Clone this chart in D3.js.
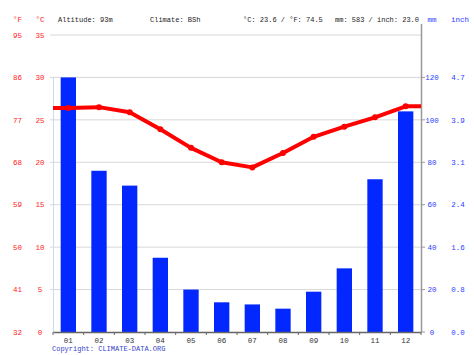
<!DOCTYPE html>
<html><head><meta charset="utf-8">
<script src="https://cdn.jsdelivr.net/npm/d3@7"></script>
<style>body{margin:0;background:#fff}svg{display:block}</style>
</head><body>
<svg id="c" width="474" height="355"></svg>
<script>
const months = ["01","02","03","04","05","06","07","08","09","10","11","12"];
const precipMm = [120,76,69,35,20,14,13,11,19,30,72,104];
const tempC = [26.4,26.5,25.9,23.9,21.7,20.0,19.4,21.1,23.0,24.2,25.3,26.6];
const cTicks = [0,5,10,15,20,25,30,35];
const fTicks = ["32","41","50","59","68","77","86","95"];
const mmTicks = [0,20,40,60,80,100,120];
const inchTicks = ["0.0","0.8","1.6","2.4","3.1","3.9","4.7"];
const header = ["Altitude: 93m","Climate: BSh","°C: 23.6 / °F: 74.5","mm: 583 / inch: 23.0"];

const svg = d3.select("#c");
const L = 53, R = 421, T = 35, B = 332;
const font = "'Liberation Mono', 'DejaVu Sans Mono', monospace";
const red = "#ff1a1a", blue = "#2a3cff";

const x = d3.scaleBand().domain(months).range([L, R]).paddingInner(0.5).paddingOuter(0.25);
const xb = d3.scaleBand().domain(months).range([L, R]);
const yC = d3.scaleLinear().domain([0, 35]).range([B, T]);
const yMm = d3.scaleLinear().domain([0, 140]).range([B, T]);

// gridlines
svg.append("g").selectAll("line").data(cTicks.filter(d => d > 0)).join("line")
  .attr("x1", L - 3).attr("x2", R).attr("y1", d => yC(d)).attr("y2", d => yC(d))
  .attr("stroke", "#d8d8d8").attr("stroke-width", 1);

// faint left axis
svg.append("line").attr("x1", L + 0.5).attr("x2", L + 0.5).attr("y1", yMm(120)).attr("y2", B)
  .attr("stroke", "#d0d8f0").attr("stroke-width", 1);

// bars
svg.append("g").selectAll("rect").data(months).join("rect")
  .attr("x", d => x(d)).attr("width", x.bandwidth())
  .attr("y", (d, i) => yMm(precipMm[i])).attr("height", (d, i) => B - yMm(precipMm[i]))
  .attr("fill", "#0328ff");

// bottom axis
const gx = svg.append("g").attr("transform", `translate(0,${B})`)
  .call(d3.axisBottom(xb).tickSize(0).tickPadding(6));
gx.select(".domain").attr("stroke", "#666").attr("stroke-width", 1.5);
gx.selectAll("text").attr("font-family", font).attr("font-size", 7.5).attr("fill", "#333");
svg.append("g").selectAll("line").data(months.concat(["end"])).join("line")
  .attr("x1", (d, i) => L + i * xb.bandwidth()).attr("x2", (d, i) => L + i * xb.bandwidth())
  .attr("y1", B).attr("y2", B + 3).attr("stroke", "#666");

// right axis
svg.append("line").attr("x1", R + 0.5).attr("x2", R + 0.5).attr("y1", 24).attr("y2", B)
  .attr("stroke", "#999").attr("stroke-width", 1.5);
svg.append("g").selectAll("line").data(mmTicks).join("line")
  .attr("x1", R).attr("x2", R + 4).attr("y1", d => yMm(d)).attr("y2", d => yMm(d))
  .attr("stroke", "#999");

// temperature line (extended flat to the plot edges)
const pts = [[L, tempC[0]]].concat(months.map((m, i) => [xb(m) + xb.bandwidth() / 2, tempC[i]]), [[R, tempC[11]]]);
svg.append("path").datum(pts)
  .attr("d", d3.line().x(d => d[0]).y(d => yC(d[1])))
  .attr("fill", "none").attr("stroke", "#ff0000").attr("stroke-width", 4).attr("stroke-linejoin", "round");
svg.append("g").selectAll("circle").data(months).join("circle")
  .attr("cx", d => xb(d) + xb.bandwidth() / 2).attr("cy", (d, i) => yC(tempC[i])).attr("r", 3)
  .attr("fill", "#ff0000");

// left labels
const tl = svg.append("g").attr("font-family", font).attr("font-size", 7.5).attr("fill", red).attr("text-anchor", "middle");
tl.selectAll(".c").data(cTicks).join("text").attr("class", "c")
  .attr("x", 40).attr("y", d => yC(d) + 2.7).text(d => d);
tl.selectAll(".f").data(fTicks).join("text").attr("class", "f")
  .attr("x", 17.5).attr("y", (d, i) => yC(cTicks[i]) + 2.7).text(d => d);
tl.append("text").attr("x", 17.5).attr("y", 22).text("°F");
tl.append("text").attr("x", 40).attr("y", 22).text("°C");

// right labels
const tr = svg.append("g").attr("font-family", font).attr("font-size", 7.5).attr("fill", blue).attr("text-anchor", "middle");
tr.selectAll(".m").data(mmTicks).join("text").attr("class", "m")
  .attr("x", 432).attr("y", d => yMm(d) + 2.7).text(d => d);
tr.selectAll(".i").data(inchTicks).join("text").attr("class", "i")
  .attr("x", 458).attr("y", (d, i) => yMm(mmTicks[i]) + 2.7).text(d => d);
tr.append("text").attr("x", 432).attr("y", 22).text("mm");
tr.append("text").attr("x", 460).attr("y", 22).text("inch");

// header
const hx = [58, 150, 243, 335];
svg.append("g").attr("font-family", font).attr("font-size", 7).attr("fill", "#222")
  .selectAll("text").data(header).join("text")
  .attr("x", (d, i) => hx[i]).attr("y", 22).text(d => d);

svg.append("text").attr("x", 52).attr("y", 351).attr("font-family", font).attr("font-size", 7)
  .attr("fill", "#3344cc").text("Copyright: CLIMATE-DATA.ORG");
</script>
</body></html>
